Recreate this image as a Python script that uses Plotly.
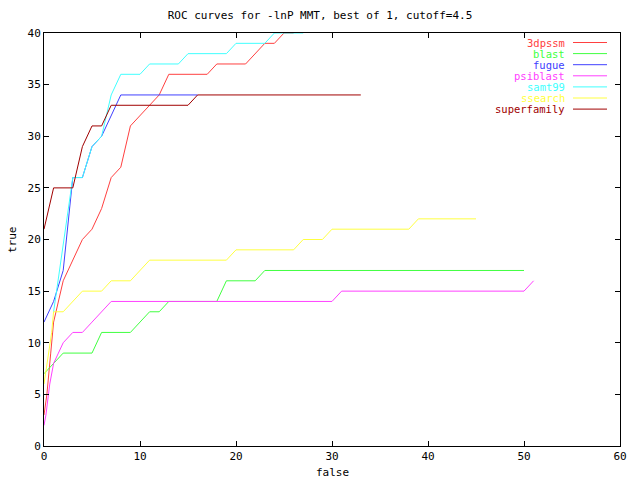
import plotly.graph_objects as go

# ---- data ----
names = ["3dpssm", "blast", "fugue", "psiblast", "samt99", "ssearch", "superfamily"]
colors = ["#ff4040", "#40ff40", "#4040ff", "#ff40ff", "#40ffff", "#ffff40", "#a00000"]

dpssm_x = [0, 0.3, 0.7, 1, 2, 3, 4, 5, 6, 7, 8, 9, 10, 11, 12, 13, 17, 18, 21, 23, 24, 25, 26]
dpssm_y = [3, 5, 9, 12, 16, 18, 20, 21, 23, 26, 27, 31, 32, 33, 34, 36, 36, 37, 37, 39, 39, 40, 40]

blast_x = [0, 2, 5, 6, 9, 11, 12, 13, 18, 19, 22, 23, 50]
blast_y = [7, 9, 9, 11, 11, 13, 13, 14, 14, 16, 16, 17, 17]

fugue_x = [0, 1, 2, 3, 4, 5, 6, 7, 8, 16]
fugue_y = [12, 14, 17, 26, 26, 29, 30, 32, 34, 34]

psiblast_x = [0, 0.2, 0.6, 1, 1.5, 2, 3, 4, 5, 6, 7, 30, 31, 50, 51]
psiblast_y = [2, 3, 6, 8, 9, 10, 11, 11, 12, 13, 14, 14, 15, 15, 16]

samt99_x = [1, 3, 4, 5, 6, 7, 8, 10, 11, 14, 15, 19, 20, 23, 24, 27]
samt99_y = [13, 26, 26, 29, 30, 34, 36, 36, 37, 37, 38, 38, 39, 39, 40, 40]

ssearch_x = [0, 0.5, 0.8, 1, 2, 4, 6, 7, 9, 11, 19, 20, 26, 27, 29, 30, 38, 39, 45]
ssearch_y = [6, 9, 11, 13, 13, 15, 15, 16, 16, 18, 18, 19, 19, 20, 20, 21, 21, 22, 22]

superfamily_x = [0, 1, 3, 4, 5, 6, 7, 15, 16, 33]
superfamily_y = [21, 25, 25, 29, 31, 31, 33, 33, 34, 34]

xs = [dpssm_x, blast_x, fugue_x, psiblast_x, samt99_x, ssearch_x, superfamily_x]
ys = [dpssm_y, blast_y, fugue_y, psiblast_y, samt99_y, ssearch_y, superfamily_y]

title = "ROC curves for -lnP MMT, best of 1, cutoff=4.5"
FONT = "DejaVu Sans Mono"

fig = go.Figure()
for n, c, x, y in zip(names, colors, xs, ys):
    fig.add_trace(go.Scatter(x=x, y=y, mode="lines", name=n,
                             line=dict(color=c, width=1), showlegend=False))

# gnuplot-like key: right-aligned coloured text with sample line to the right
W, H = 640, 480
L, R, T, B = 44, 20, 33, 34
pw, ph = W - L - R, H - T - B


def px_x(p):
    return (p - L) / pw


def px_y(p):
    return (H - B - p) / ph


row0 = 42.5
step = 11.1
annotations = []
shapes = []
for i, (n, c) in enumerate(zip(names, colors)):
    yp = px_y(row0 + i * step)
    annotations.append(dict(x=px_x(566), y=yp, xref="paper", yref="paper",
                            text=n, showarrow=False, xanchor="right", yanchor="middle",
                            borderpad=0,
                            font=dict(family=FONT, size=10.5, color=c)))
    shapes.append(dict(type="line", xref="paper", yref="paper",
                       x0=px_x(573), x1=px_x(607), y0=yp, y1=yp,
                       line=dict(color=c, width=1)))

# axis titles as gnuplot-style labels
annotations.append(dict(x=0.5, y=px_y(472), xref="paper", yref="paper",
                        text="false", showarrow=False, xanchor="center", yanchor="middle",
                        font=dict(family=FONT, size=11, color="black")))
annotations.append(dict(x=px_x(12), y=px_y(240), xref="paper", yref="paper",
                        text="true", showarrow=False, xanchor="center", yanchor="middle",
                        textangle=-90,
                        font=dict(family=FONT, size=11, color="black")))

axis_common = dict(showgrid=False, zeroline=False, showline=True, mirror="ticks",
                   linecolor="black", linewidth=1, ticks="inside", ticklen=5,
                   tickcolor="black", tickwidth=1, automargin=False,
                   tickfont=dict(family=FONT, size=11, color="black"))

fig.update_layout(
    width=W, height=H,
    margin=dict(l=L, r=R, t=T, b=B, autoexpand=False),
    plot_bgcolor="white", paper_bgcolor="white",
    title=dict(text=title, x=0.5, xanchor="center", y=1 - 15 / H, yanchor="middle",
               yref="container", font=dict(family=FONT, size=11, color="black")),
    xaxis=dict(range=[0, 60], dtick=10, tick0=0, **axis_common),
    yaxis=dict(range=[0, 40], dtick=5, tick0=0, **axis_common),
    annotations=annotations,
    shapes=shapes,
)

fig.write_html("out.html", config={"displayModeBar": False},
               post_script="document.body.style.margin='0';document.body.style.padding='0';")
